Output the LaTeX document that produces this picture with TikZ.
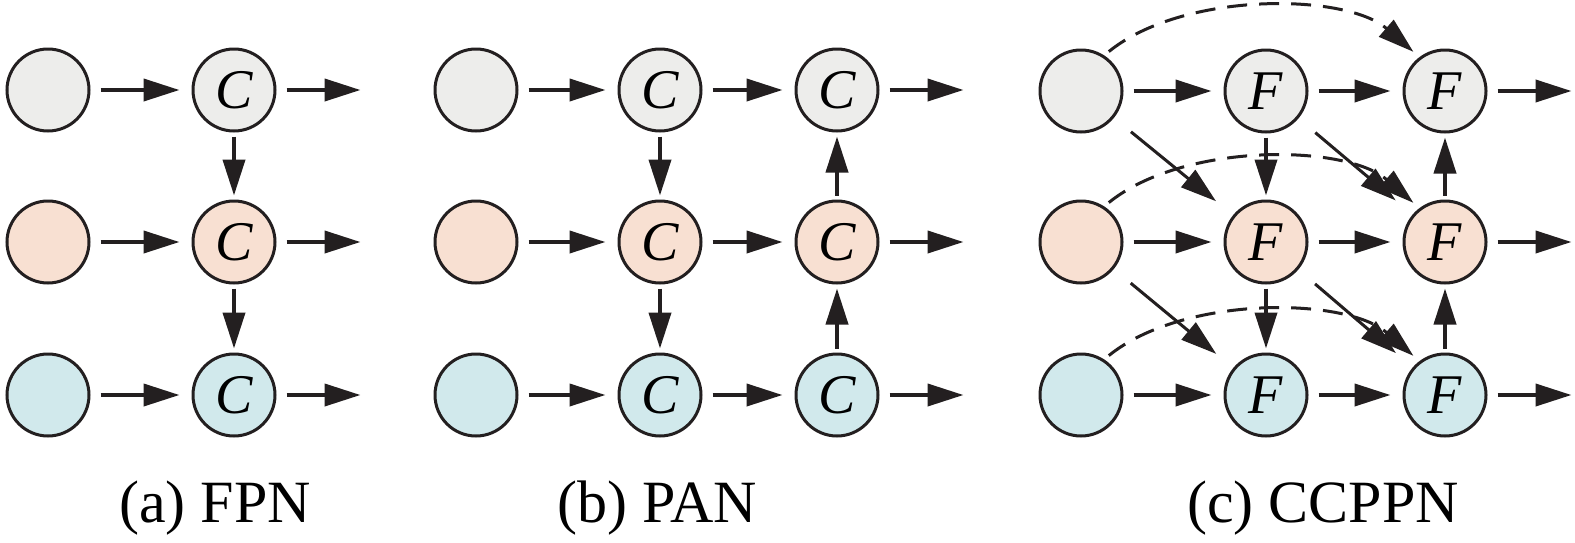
\documentclass[tikz,border=0pt]{standalone}
\usepackage{fontspec}
\setmainfont{Liberation Serif}
\usetikzlibrary{arrows.meta, positioning}
\definecolor{lvlgray}{RGB}{237, 237, 235}
\definecolor{lvlorange}{RGB}{248, 224, 210}
\definecolor{lvlcyan}{RGB}{209, 233, 236}
\definecolor{inkblack}{RGB}{35, 31, 32}
\tikzstyle{level} = [circle, draw=inkblack, line width=1.5pt, minimum size=41pt, inner sep=0pt, font=\fontsize{28}{28}\selectfont\itshape]
\tikzstyle{graylvl} = [level, fill=lvlgray]
\tikzstyle{orangelvl} = [level, fill=lvlorange]
\tikzstyle{cyanlvl} = [level, fill=lvlcyan]
\tikzstyle{arrow} = [-{Triangle[length=18pt, width=11pt]}, draw=inkblack, line width=2pt, shorten <=5pt, shorten >=6pt]
\tikzstyle{outarrow} = [arrow, shorten >=0pt]
\tikzstyle{varrow} = [arrow, shorten <=2pt, shorten >=2pt]
\tikzstyle{diagarrow} = [arrow, line width=1.5pt, shorten <=11pt, shorten >=11pt]
\tikzstyle{skiparrow} = [-{Triangle[length=18pt, width=11pt]}, draw=inkblack, line width=1.5pt, dash pattern=on 10pt off 6pt, shorten <=3pt, shorten >=4pt]
\tikzstyle{caption} = [anchor=base, font=\fontsize{30}{30}\selectfont]

\begin{document}
\begin{tikzpicture}[x=0.5pt, y=0.5pt, node distance=42pt]
    \useasboundingbox (0,0) rectangle (1575,-542);

    % (a) FPN
    \node[graylvl] (aL1) at (48,-90) {};
    \node[orangelvl] (aL2) at (48,-242) {};
    \node[cyanlvl] (aL3) at (48,-395) {};
    \node[graylvl] (aM1) at (234,-90) {C};
    \node[orangelvl] (aM2) at (234,-242) {C};
    \node[cyanlvl] (aM3) at (234,-395) {C};
    \coordinate[right=of aM1] (aO1);
    \coordinate[right=of aM2] (aO2);
    \coordinate[right=of aM3] (aO3);

    % (b) PAN
    \node[graylvl] (bL1) at (476,-90) {};
    \node[orangelvl] (bL2) at (476,-242) {};
    \node[cyanlvl] (bL3) at (476,-395) {};
    \node[graylvl] (bM1) at (660,-90) {C};
    \node[orangelvl] (bM2) at (660,-242) {C};
    \node[cyanlvl] (bM3) at (660,-395) {C};
    \node[graylvl] (bR1) at (837,-90) {C};
    \node[orangelvl] (bR2) at (837,-242) {C};
    \node[cyanlvl] (bR3) at (837,-395) {C};
    \coordinate[right=of bR1] (bO1);
    \coordinate[right=of bR2] (bO2);
    \coordinate[right=of bR3] (bO3);

    % (c) CCPPN
    \node[graylvl] (cL1) at (1081,-91) {};
    \node[orangelvl] (cL2) at (1081,-242) {};
    \node[cyanlvl] (cL3) at (1081,-395) {};
    \node[graylvl] (cM1) at (1266,-91) {F};
    \node[orangelvl] (cM2) at (1266,-242) {F};
    \node[cyanlvl] (cM3) at (1266,-395) {F};
    \node[graylvl] (cR1) at (1445,-91) {F};
    \node[orangelvl] (cR2) at (1445,-242) {F};
    \node[cyanlvl] (cR3) at (1445,-395) {F};
    \coordinate[right=of cR1] (cO1);
    \coordinate[right=of cR2] (cO2);
    \coordinate[right=of cR3] (cO3);

    % Captions
    \node[caption] (capa) at (215,-522) {(a) FPN};
    \node[caption] (capb) at (657,-522) {(b) PAN};
    \node[caption] (capc) at (1323,-522) {(c) CCPPN};

    % Arrows (a)
    \draw[arrow] (aL1) -- (aM1);
    \draw[arrow] (aL2) -- (aM2);
    \draw[arrow] (aL3) -- (aM3);
    \draw[outarrow] (aM1) -- (aO1);
    \draw[outarrow] (aM2) -- (aO2);
    \draw[outarrow] (aM3) -- (aO3);
    \draw[varrow] (aM1) -- (aM2);
    \draw[varrow] (aM2) -- (aM3);

    % Arrows (b)
    \draw[arrow] (bL1) -- (bM1);
    \draw[arrow] (bL2) -- (bM2);
    \draw[arrow] (bL3) -- (bM3);
    \draw[arrow] (bM1) -- (bR1);
    \draw[arrow] (bM2) -- (bR2);
    \draw[arrow] (bM3) -- (bR3);
    \draw[outarrow] (bR1) -- (bO1);
    \draw[outarrow] (bR2) -- (bO2);
    \draw[outarrow] (bR3) -- (bO3);
    \draw[varrow] (bM1) -- (bM2);
    \draw[varrow] (bM2) -- (bM3);
    \draw[varrow] (bR3) -- (bR2);
    \draw[varrow] (bR2) -- (bR1);

    % Arrows (c)
    \draw[arrow] (cL1) -- (cM1);
    \draw[arrow] (cL2) -- (cM2);
    \draw[arrow] (cL3) -- (cM3);
    \draw[arrow] (cM1) -- (cR1);
    \draw[arrow] (cM2) -- (cR2);
    \draw[arrow] (cM3) -- (cR3);
    \draw[outarrow] (cR1) -- (cO1);
    \draw[outarrow] (cR2) -- (cO2);
    \draw[outarrow] (cR3) -- (cO3);
    \draw[varrow] (cM1) -- (cM2);
    \draw[varrow] (cM2) -- (cM3);
    \draw[varrow] (cR3) -- (cR2);
    \draw[varrow] (cR2) -- (cR1);
    \draw[diagarrow] (cL1) -- (cM2);
    \draw[diagarrow] (cL2) -- (cM3);
    \draw[diagarrow] (cM1) -- (cR2);
    \draw[diagarrow] (cM2) -- (cR3);

    % Skip connections
    \draw[skiparrow] (cL1.57) to[out=39, in=139, out distance=51pt, in distance=49pt] (cR1.127);
    \draw[skiparrow] (cL2.57) to[out=39, in=139, out distance=51pt, in distance=49pt] (cR2.127);
    \draw[skiparrow] (cL3.57) to[out=39, in=139, out distance=51pt, in distance=49pt] (cR3.127);
\end{tikzpicture}
\end{document}
